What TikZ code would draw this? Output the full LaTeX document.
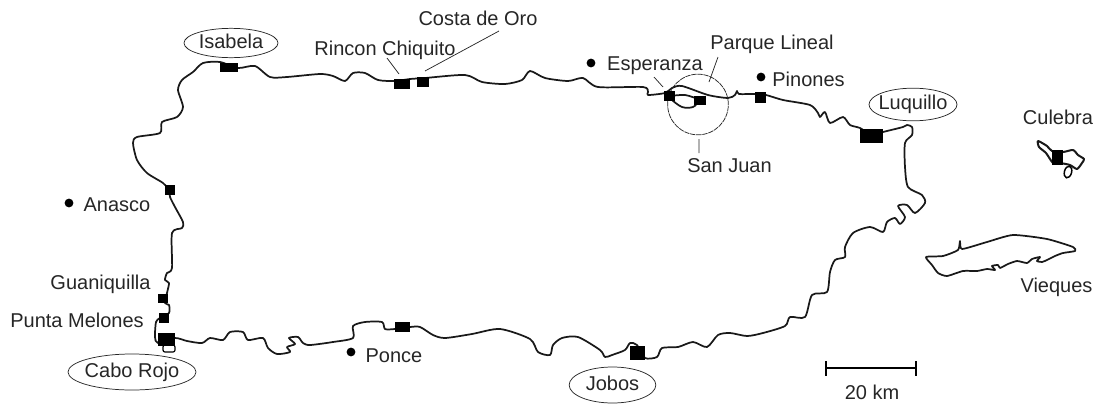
\documentclass[tikz,border=0pt]{standalone}
\usepackage{fontspec}
\setmainfont{Liberation Sans}
\usetikzlibrary{shapes.geometric}
\tikzset{
  coast/.style={line width=1.3pt,black!90,line join=round,line cap=round},
  lead/.style={line width=0.55pt,black!85},
  site/.style={rectangle,fill=black,inner sep=0pt,outer sep=0pt},
  dotm/.style={circle,fill=black,inner sep=0pt,minimum size=6.6pt},
  lab/.style={anchor=base,inner sep=0pt,text=black!85,font=\fontsize{15}{15}\selectfont},
  oval/.style={ellipse,draw=black!85,line width=0.55pt,inner sep=0pt,text=black!85,font=\fontsize{15}{15}\selectfont,text height=10.8pt,text depth=3pt}
}
\begin{document}
\begin{tikzpicture}[x=0.75pt,y=-0.75pt]
\path[use as bounding box] (0,0) rectangle (1096,404);
% main island
\draw[coast] plot[smooth cycle,tension=0.45] coordinates {
(169,190)(163,183)(147,173)(137,160)(133,143)(137,137)(160,133)(162,122)(177,117)(183,107)(178,90)(182,80)(193,72)(203,63)(220,62)(238,68)(255,66)(270,77)(287,77)(320,74)(333,76)(345,81)(353,73)(365,73)(378,80)(395,81)(410,79)(425,78)(465,75)(482,82)(505,84)(522,80)(530,71)(545,78)(568,81)(583,78)(598,87)(643,87)(648,92)(648,95)(665,93)(672,88)(682,86)(708,95)(728,98)(735,95)(737,91)(739,94)(755,94)(766,95)(783,100)(810,105)(818,113)(820,117)(825,112)(830,123)(843,117)(850,125)(860,128)(872,135)(883,132)(903,127)(907,125)(912,127)(912,135)(905,143)(905,167)(908,187)(922,195)(925,203)(915,213)(907,205)(898,206)(905,217)(900,224)(895,218)(887,222)(883,232)(870,227)(853,233)(845,247)(845,257)(835,260)(830,272)(827,292)(812,295)(805,317)(790,317)(785,326)(763,333)(747,336)(730,333)(718,335)(707,347)(693,342)(678,347)(662,348)(657,357)(645,358)(637,345)(630,343)(625,350)(612,355)(605,357)(600,350)(578,337)(562,338)(553,345)(550,355)(538,352)(530,339)(500,329)(472,334)(445,338)(433,335)(420,327)(410,327)(395,329)(385,329)(382,322)(365,322)(353,326)(353,338)(333,342)(310,345)(303,343)(298,337)(289,338)(295,344)(287,347)(290,352)(277,354)(268,348)(263,338)(248,340)(243,332)(230,332)(223,340)(210,338)(202,343)(187,341)(175,338)(158,343)(155,337)(156,322)(160,318)(169,313)(169,305)(165,303)(167,293)(169,283)(165,280)(167,273)(172,268)(172,233)(182,228)(183,222)(175,207)(170,197)};
% San Juan bay
\draw[coast] plot[smooth,tension=0.5] coordinates {(670,96)(685,95)(698,99)};
\draw[coast] plot[smooth,tension=0.6] coordinates {(672,100)(682,107)(693,107)(699,101)};
% Cabo Rojo point
\draw[line width=0.9pt,rounded corners=1.5pt] (163,345) rectangle (175,352);
% Vieques
\draw[coast] plot[smooth cycle,tension=0.35] coordinates {(926,257)(943,256)(958,250)(960,241)(962,249)(987,242)(1013,235)(1047,239)(1073,247)(1075,251)(1063,253)(1055,256)(1047,260)(1042,262)(1037,261)(1040,257)(1032,259)(1027,263)(1017,261)(1008,264)(1000,268)(998,265)(992,266)(995,270)(987,269)(977,271)(963,271)(947,276)(938,273)(932,265)};
% Culebra
\draw[coast,line width=1.5pt] plot[smooth cycle,tension=0.4] coordinates {(1038,141)(1047,146)(1052,151)(1063,152)(1073,150)(1078,155)(1084,159)(1082,163)(1077,169)(1070,165)(1060,163)(1053,163)(1046,153)(1039,147)};
\draw[line width=1.1pt,rotate around={-15:(1068,172)}] (1068,172) ellipse (3.6 and 6);
% San Juan circle
\node[circle,draw=black!85,line width=0.55pt,dash pattern=on 4pt off 0.6pt,minimum size=45.5pt,inner sep=0pt] (sjc) at (698,104.5) {};
% sites
\node[site,minimum width=13.5pt,minimum height=6.8pt] (sIsa) at (229,67.5) {};
\node[site,minimum width=12pt,minimum height=7.5pt] (sRin) at (402,84) {};
\node[site,minimum width=9pt,minimum height=7.5pt] (sCos) at (423,82) {};
\node[site,minimum width=8.25pt,minimum height=7.5pt] (sEsp) at (669.5,96) {};
\node[site,minimum width=9pt,minimum height=6.8pt] (sPar) at (700,100.5) {};
\node[site,minimum width=8.25pt,minimum height=8.25pt] (sPin) at (760.5,97) {};
\node[site,minimum width=17.25pt,minimum height=10.5pt] (sLuq) at (871.5,136) {};
\node[site,minimum width=8.25pt,minimum height=11.25pt] (sCul) at (1057.5,157.5) {};
\node[site,minimum width=7.5pt,minimum height=7.5pt] (sAna) at (169.5,190) {};
\node[site,minimum width=6.8pt,minimum height=6.8pt] (sGua) at (163,298.5) {};
\node[site,minimum width=7.5pt,minimum height=7.5pt] (sPun) at (164,318) {};
\node[site,minimum width=12.75pt,minimum height=9.75pt] (sCab) at (166.5,339.5) {};
\node[site,minimum width=11.25pt,minimum height=7.5pt] (sPon) at (402.5,327) {};
\node[site,minimum width=11.25pt,minimum height=10.5pt] (sJob) at (637.5,352.5) {};
% dots
\node[dotm] (dEsp) at (591,63) {};
\node[dotm] (dPin) at (761,77) {};
\node[dotm] (dAna) at (69,203) {};
\node[dotm] (dPon) at (351,352) {};
% labels
\node[oval,minimum width=70.5pt,minimum height=22pt] (Isa) at (231,43) {\makebox[0pt]{Isabela}};
\node[oval,minimum width=66pt,minimum height=24.5pt] (Luq) at (913,104.5) {\makebox[0pt]{Luquillo}};
\node[oval,minimum width=96pt,minimum height=27pt] (Cab) at (132,372) {\makebox[0pt]{Cabo Rojo}};
\node[oval,minimum width=65pt,minimum height=27pt] (Job) at (612.5,385) {\makebox[0pt]{Jobos}};
\node[lab] (Rin) at (385,55) {Rincon Chiquito};
\node[lab] (Cos) at (478,25) {Costa de Oro};
\node[lab] (Esp) at (655,70) {Esperanza};
\node[lab] (Par) at (772,49) {Parque Lineal};
\node[lab] (Pin) at (808.5,86) {Pinones};
\node[lab] (SJ) at (729.5,172) {San Juan};
\node[lab] (Cul) at (1058,124) {Culebra};
\node[lab] (Ana) at (117,211) {Anasco};
\node[lab] (Gua) at (100.5,289) {Guaniquilla};
\node[lab] (Pun) at (77,327) {Punta Melones};
\node[lab] (Pon) at (394,362) {Ponce};
\node[lab] (Vie) at (1056.5,292) {Vieques};
\node[lab] (Km) at (872,399) {20 km};
% leaders
\coordinate (a1) at (387,58); \coordinate (a2) at (399,74);
\coordinate (b1) at (499,31); \coordinate (b2) at (425,71);
\coordinate (c1) at (654,77); \coordinate (c2) at (663,87);
\coordinate (d1) at (718,57); \coordinate (d2) at (709,82);
\coordinate (e1) at (699,139); \coordinate (e2) at (699,153);
\draw[lead] (a1)--(a2) (b1)--(b2) (c1)--(c2) (d1)--(d2) (e1)--(e2);
% scale bar
\coordinate (sb1) at (826,368); \coordinate (sb2) at (916,368);
\draw[line width=1.5pt] (sb1)--(sb2);
\draw[line width=1.1pt] (826,361)--(826,376) (916,361)--(916,376);
\end{tikzpicture}
\end{document}
